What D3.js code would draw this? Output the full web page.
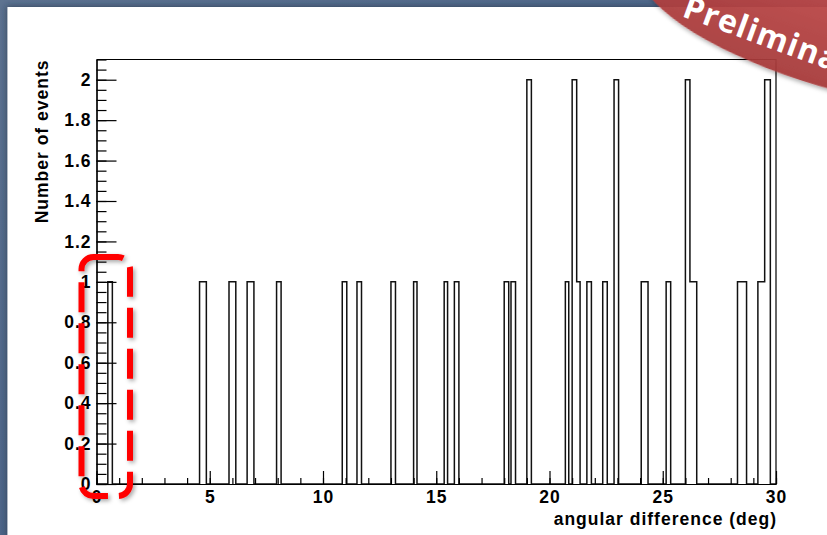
<!DOCTYPE html>
<html>
<head>
<meta charset="utf-8">
<script src="https://cdn.jsdelivr.net/npm/d3@7"></script>
<style>
  body { margin: 0; background: #fff; }
  svg { display: block; }
</style>
</head>
<body>
<div id="chart"></div>
<script>
// histogram bins (deg) and their counts
var binLow   = [0.5, 4.55, 5.85, 6.65, 7.95, 10.85, 11.5, 13.0, 14.0, 15.35, 15.8, 18.0, 18.3, 19.0, 20.7, 21.0, 21.2, 21.65, 22.35, 22.85, 24.05, 25.15, 26.0, 26.2, 28.3, 29.2, 29.5];
var binHigh  = [0.7, 4.85, 6.15, 6.95, 8.15, 11.05, 11.7, 13.2, 14.15, 15.5, 16.0, 18.2, 18.5, 19.2, 20.85, 21.2, 21.35, 21.85, 22.55, 23.05, 24.35, 25.35, 26.2, 26.5, 28.7, 29.5, 29.75];
var binCount = [1, 1, 1, 1, 1, 1, 1, 1, 1, 1, 1, 1, 1, 2, 1, 2, 1, 1, 1, 2, 1, 1, 2, 1, 1, 1, 2];

var xTickValues = [0, 5, 10, 15, 20, 25, 30];
var yTickValues = [0, 0.2, 0.4, 0.6, 0.8, 1, 1.2, 1.4, 1.6, 1.8, 2];
var yTickLabels = ['0', '0.2', '0.4', '0.6', '0.8', '1', '1.2', '1.4', '1.6', '1.8', '2'];

var xTitle = 'angular difference (deg)';
var yTitle = 'Number of events';
var stampText = 'Preliminary';

var width = 827, height = 535;
var frame = {left: 96.5, right: 776, top: 59.5, bottom: 484};
var fontFamily = '"Liberation Sans", Arial, Helvetica, sans-serif';

var svg = d3.select('#chart')
  .append('svg')
  .attr('width', width)
  .attr('height', height);

var defs = svg.append('defs');

var bg = defs.append('linearGradient').attr('id', 'slideBg')
  .attr('x1', 0).attr('y1', 0).attr('x2', 1).attr('y2', 1);
bg.append('stop').attr('offset', '0%').attr('stop-color', '#5d7391');
bg.append('stop').attr('offset', '100%').attr('stop-color', '#3f5a82');

var red = defs.append('linearGradient').attr('id', 'stampFill')
  .attr('x1', 0).attr('y1', 0).attr('x2', 0).attr('y2', 1);
red.append('stop').attr('offset', '0%').attr('stop-color', '#c24b4b');
red.append('stop').attr('offset', '100%').attr('stop-color', '#a83a3a');

var shadow = defs.append('filter').attr('id', 'shadow')
  .attr('x', '-20%').attr('y', '-20%').attr('width', '140%').attr('height', '140%');
shadow.append('feDropShadow')
  .attr('dx', 2).attr('dy', 2).attr('stdDeviation', 2)
  .attr('flood-color', '#000').attr('flood-opacity', 0.35);

var panelShadow = defs.append('filter').attr('id', 'panelShadow')
  .attr('x', '-5%').attr('y', '-5%').attr('width', '110%').attr('height', '110%');
panelShadow.append('feDropShadow')
  .attr('dx', -1).attr('dy', -1).attr('stdDeviation', 3)
  .attr('flood-color', '#1c2a40').attr('flood-opacity', 0.6);

// slide background and white panel
svg.append('rect')
  .attr('width', width).attr('height', height)
  .attr('fill', 'url(#slideBg)');
svg.append('rect')
  .attr('x', 7.5).attr('y', 7)
  .attr('width', width).attr('height', height)
  .attr('fill', '#fff')
  .attr('filter', 'url(#panelShadow)');

var x = d3.scaleLinear().domain([0, 30]).range([frame.left, frame.right]);
var y = d3.scaleLinear().domain([0, 2.1]).range([frame.bottom, frame.top]);

// histogram outline
var pts = [[0, 0]];
var curX = 0;
binLow.forEach(function(lo, i) {
  if (lo > curX) {
    pts.push([curX, 0]);
    pts.push([lo, 0]);
  }
  pts.push([lo, binCount[i]]);
  pts.push([binHigh[i], binCount[i]]);
  curX = binHigh[i];
});
pts.push([curX, 0]);
pts.push([30, 0]);

var line = d3.line()
  .x(function(d) { return x(d[0]); })
  .y(function(d) { return y(d[1]); });

svg.append('path')
  .datum(pts)
  .attr('d', line)
  .attr('fill', 'none')
  .attr('stroke', '#111')
  .attr('stroke-width', 1.5)
  .attr('stroke-linejoin', 'miter');

// frame top and right
svg.append('path')
  .attr('d', 'M' + frame.left + ',' + frame.top + 'H' + frame.right + 'V' + frame.bottom)
  .attr('fill', 'none')
  .attr('stroke', '#000')
  .attr('stroke-width', 1.2);

function styleAxis(g) {
  g.select('.domain').attr('stroke', '#000').attr('stroke-width', 1.2);
  g.selectAll('.tick line').attr('stroke', '#000').attr('stroke-width', 1.2);
  g.selectAll('text')
    .attr('font-family', fontFamily)
    .attr('font-weight', 'bold')
    .attr('font-size', '17.5px')
    .attr('letter-spacing', '1px')
    .attr('fill', '#000');
}

// x axis: minor ticks every degree, major every 5
svg.append('g')
  .attr('transform', 'translate(0,' + frame.bottom + ')')
  .call(d3.axisBottom(x).tickValues(d3.range(0, 31, 1)).tickSize(-6).tickSizeOuter(0).tickFormat(''))
  .call(styleAxis);

svg.append('g')
  .attr('transform', 'translate(0,' + frame.bottom + ')')
  .call(d3.axisBottom(x).tickValues(xTickValues).tickSize(-13).tickSizeOuter(0).tickPadding(7).tickFormat(d3.format('d')))
  .call(styleAxis);

// y axis: minor every 0.05, major every 0.2
svg.append('g')
  .attr('transform', 'translate(' + frame.left + ',0)')
  .call(d3.axisLeft(y).tickValues(d3.range(0, 2.101, 0.05)).tickSize(-10).tickSizeOuter(0).tickFormat(''))
  .call(styleAxis);

svg.append('g')
  .attr('transform', 'translate(' + frame.left + ',0)')
  .call(d3.axisLeft(y).tickValues(yTickValues).tickSize(-20).tickSizeOuter(0).tickPadding(5)
    .tickFormat(function(d, i) { return yTickLabels[i]; }))
  .call(styleAxis);

// axis titles
svg.append('text')
  .attr('x', frame.right + 1)
  .attr('y', 525)
  .attr('text-anchor', 'end')
  .attr('font-family', fontFamily)
  .attr('font-weight', 'bold')
  .attr('font-size', '17.5px')
  .attr('letter-spacing', '1px')
  .text(xTitle);

svg.append('text')
  .attr('transform', 'translate(48,' + frame.top + ') rotate(-90)')
  .attr('text-anchor', 'end')
  .attr('font-family', fontFamily)
  .attr('font-weight', 'bold')
  .attr('font-size', '17.5px')
  .attr('letter-spacing', '1px')
  .text(yTitle);

// red dashed highlight box
svg.append('rect')
  .attr('x', 81.5).attr('y', 257)
  .attr('width', 48.5).attr('height', 239)
  .attr('rx', 12).attr('ry', 12)
  .attr('fill', 'none')
  .attr('stroke', '#ff0000')
  .attr('stroke-width', 6)
  .attr('stroke-dasharray', '30 11')
  .attr('filter', 'url(#shadow)');

// "Preliminary" stamp
var stamp = svg.append('g');
stamp.append('ellipse')
  .attr('transform', 'translate(818,28) rotate(18)')
  .attr('rx', 185).attr('ry', 55)
  .attr('fill', 'url(#stampFill)')
  .attr('fill-opacity', 0.92)
  .attr('filter', 'url(#shadow)');
stamp.append('text')
  .attr('transform', 'translate(681,16) rotate(20)')
  .attr('font-family', '"Open Sans", Lato, sans-serif')
  .attr('font-weight', 'bold')
  .attr('font-size', '32px')
  .attr('letter-spacing', '1px')
  .attr('fill', '#fff')
  .text(stampText);
</script>
</body>
</html>
